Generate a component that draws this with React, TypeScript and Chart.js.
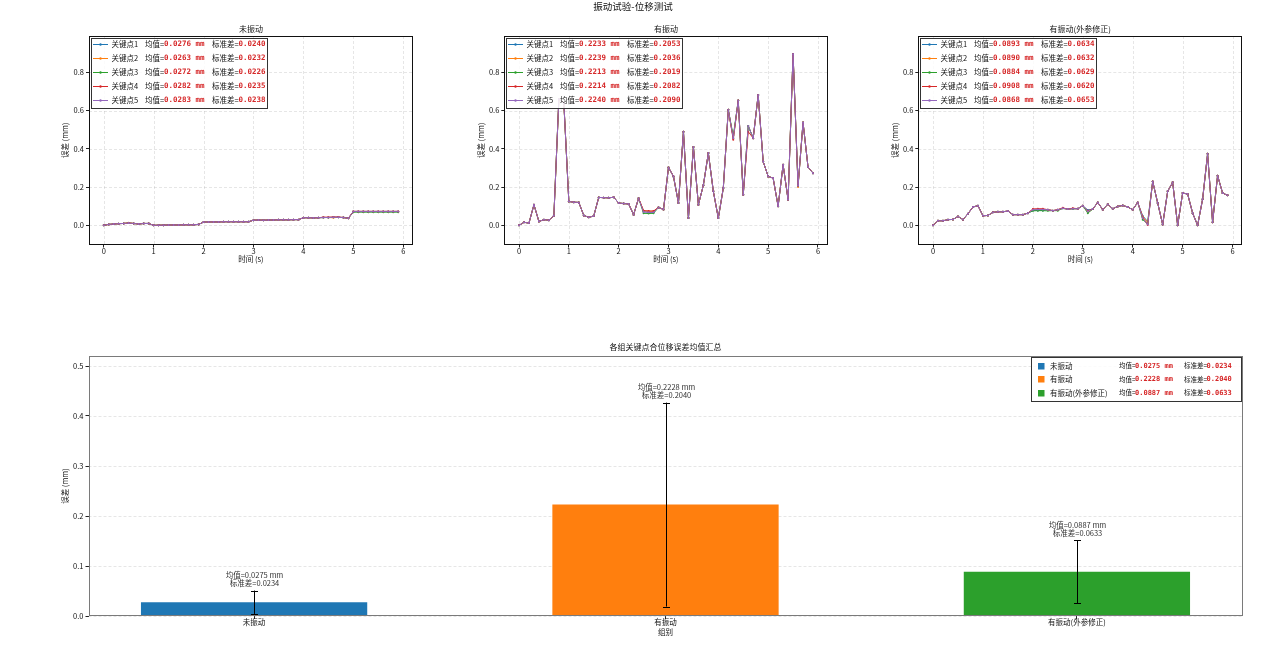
import { useEffect, useRef } from 'react';
import { Chart, registerables } from 'chart.js';

Chart.register(...registerables);

const FONT = '"Noto Sans CJK SC", "DejaVu Sans", sans-serif';
const MONO = '"DejaVu Sans Mono", monospace';
const VALUE_RED = '#d62728';

// Sampling instants (s)
const TIMES = [
  0.0, 0.1, 0.2, 0.3, 0.4, 0.5, 0.6, 0.7, 0.8, 0.9,
  1.0, 1.1, 1.2, 1.3, 1.4, 1.5, 1.6, 1.7, 1.8, 1.9,
  2.0, 2.1, 2.2, 2.3, 2.4, 2.5, 2.6, 2.7, 2.8, 2.9,
  3.0, 3.1, 3.2, 3.3, 3.4, 3.5, 3.6, 3.7, 3.8, 3.9,
  4.0, 4.1, 4.2, 4.3, 4.4, 4.5, 4.6, 4.7, 4.8, 4.9,
  5.0, 5.1, 5.2, 5.3, 5.4, 5.5, 5.6, 5.7, 5.8, 5.9,
];
const TIME_TICKS = [0, 1, 2, 3, 4, 5, 6];
const ERR_TICKS = [0, 0.2, 0.4, 0.6, 0.8];

const KEY_POINTS = ['关键点1', '关键点2', '关键点3', '关键点4', '关键点5'];
const KEY_COLORS = ['#1f77b4', '#ff7f0e', '#2ca02c', '#d62728', '#9467bd'];

// 未振动: common trace plus per-point deviations (index -> value)
const STATIC_TRACE = [
  0.000, 0.005, 0.007, 0.009, 0.010, 0.012, 0.010, 0.007, 0.010, 0.010,
  0.000, 0.001, 0.001, 0.002, 0.002, 0.002, 0.003, 0.003, 0.003, 0.005,
  0.017, 0.018, 0.018, 0.018, 0.019, 0.019, 0.019, 0.019, 0.019, 0.019,
  0.027, 0.028, 0.027, 0.028, 0.028, 0.029, 0.029, 0.029, 0.030, 0.030,
  0.040, 0.040, 0.039, 0.040, 0.041, 0.041, 0.042, 0.042, 0.041, 0.037,
  0.073, 0.073, 0.073, 0.073, 0.073, 0.073, 0.073, 0.073, 0.073, 0.073,
];
const STATIC_DEVIATIONS: Record<number, number>[] = [
  {},
  { 5: 0.014, 46: 0.040 },
  { 50: 0.069, 51: 0.069, 52: 0.069, 53: 0.069, 54: 0.069, 55: 0.069, 56: 0.069, 57: 0.069, 58: 0.069, 59: 0.069 },
  { 44: 0.043, 45: 0.043, 46: 0.044, 47: 0.044 },
  {},
];
const STATIC_MEANS = [0.0276, 0.0263, 0.0272, 0.0282, 0.0283];
const STATIC_STDS = [0.0240, 0.0232, 0.0226, 0.0235, 0.0238];

// 有振动
const VIB_TRACE = [
  0.000, 0.016, 0.012, 0.108, 0.020, 0.030, 0.027, 0.050, 0.660, 0.640,
  0.125, 0.121, 0.120, 0.052, 0.042, 0.049, 0.146, 0.145, 0.144, 0.147,
  0.117, 0.114, 0.112, 0.056, 0.142, 0.070, 0.068, 0.068, 0.094, 0.083,
  0.303, 0.256, 0.117, 0.490, 0.038, 0.410, 0.108, 0.210, 0.378, 0.178,
  0.038, 0.195, 0.604, 0.456, 0.653, 0.160, 0.520, 0.456, 0.682, 0.334,
  0.256, 0.247, 0.100, 0.317, 0.134, 0.896, 0.207, 0.538, 0.305, 0.273,
];
const VIB_DEVIATIONS: Record<number, number>[] = [
  { 25: 0.072, 26: 0.068 },
  { 25: 0.076, 26: 0.074, 27: 0.074, 56: 0.200 },
  { 25: 0.063, 26: 0.062, 27: 0.063, 43: 0.468 },
  { 25: 0.077, 26: 0.075, 27: 0.075, 43: 0.448, 46: 0.490 },
  {},
];
const VIB_MEANS = [0.2233, 0.2239, 0.2213, 0.2214, 0.2240];
const VIB_STDS = [0.2053, 0.2036, 0.2019, 0.2082, 0.2090];

// 有振动(外参修正)
const RECT_TRACE = [
  0.000, 0.024, 0.024, 0.030, 0.031, 0.047, 0.030, 0.061, 0.096, 0.103,
  0.050, 0.052, 0.068, 0.071, 0.071, 0.075, 0.056, 0.056, 0.056, 0.064,
  0.082, 0.083, 0.083, 0.082, 0.077, 0.082, 0.089, 0.085, 0.087, 0.087,
  0.103, 0.073, 0.085, 0.120, 0.082, 0.110, 0.087, 0.099, 0.104, 0.096,
  0.082, 0.120, 0.038, 0.004, 0.230, 0.117, 0.004, 0.178, 0.225, 0.000,
  0.169, 0.164, 0.064, 0.000, 0.137, 0.374, 0.016, 0.260, 0.169, 0.157,
];
const RECT_DEVIATIONS: Record<number, number>[] = [
  { 20: 0.078, 21: 0.078, 22: 0.078, 31: 0.080, 42: 0.050, 43: 0.020 },
  { 31: 0.068, 42: 0.045, 43: 0.015 },
  { 20: 0.076, 21: 0.077, 22: 0.077, 23: 0.076, 25: 0.077, 31: 0.064, 42: 0.030, 43: 0.008 },
  { 20: 0.086, 21: 0.087, 22: 0.087, 26: 0.092, 28: 0.090, 31: 0.077, 42: 0.042, 43: 0.002 },
  {},
];
const RECT_MEANS = [0.0893, 0.0890, 0.0884, 0.0908, 0.0868];
const RECT_STDS = [0.0634, 0.0632, 0.0629, 0.0620, 0.0653];

// Summary bars
const GROUPS = ['未振动', '有振动', '有振动(外参修正)'];
const GROUP_MEANS = [0.0275, 0.2228, 0.0887];
const GROUP_STDS = [0.0234, 0.2040, 0.0633];
const GROUP_COLORS = ['#1f77b4', '#ff7f0e', '#2ca02c'];
const SUMMARY_TICKS = [0, 0.1, 0.2, 0.3, 0.4, 0.5];

Chart.defaults.font.family = FONT;
Chart.defaults.color = '#111';

function hline(ctx: CanvasRenderingContext2D, x1: number, x2: number, y: number) {
  ctx.beginPath();
  ctx.moveTo(x1, y);
  ctx.lineTo(x2, y);
  ctx.stroke();
}
function vline(ctx: CanvasRenderingContext2D, x: number, y1: number, y2: number) {
  ctx.beginPath();
  ctx.moveTo(x, y1);
  ctx.lineTo(x, y2);
  ctx.stroke();
}

function gridFramePlugin(gridX: boolean, frameColor: string) {
  return {
    id: 'gridFrame',
    beforeDatasetsDraw(chart: any) {
      const { ctx, chartArea: a, scales } = chart;
      ctx.save();
      ctx.strokeStyle = 'rgba(150,150,150,0.3)';
      ctx.lineWidth = 0.8;
      ctx.setLineDash([3, 2]);
      if (gridX) {
        for (const t of scales.x.ticks) {
          const px = Math.round(scales.x.getPixelForValue(t.value)) + 0.5;
          vline(ctx, px, a.top, a.bottom);
        }
      }
      for (const t of scales.y.ticks) {
        const py = Math.round(scales.y.getPixelForValue(t.value)) + 0.5;
        hline(ctx, a.left, a.right, py);
      }
      ctx.restore();
    },
    afterDatasetsDraw(chart: any) {
      const { ctx, chartArea: a } = chart;
      ctx.save();
      ctx.strokeStyle = frameColor;
      ctx.lineWidth = 1;
      const l = Math.round(a.left) + 0.5;
      const r = Math.round(a.right) - 0.5;
      const t = Math.round(a.top) + 0.5;
      const b = Math.round(a.bottom) - 0.5;
      ctx.strokeRect(l, t, r - l, b - t);
      ctx.restore();
    },
  };
}

function titlePlugin(title: string, suptitle?: { text: string; x: number }) {
  return {
    id: 'panelTitle',
    afterDraw(chart: any) {
      const { ctx, chartArea: a } = chart;
      ctx.save();
      ctx.fillStyle = '#111';
      ctx.textAlign = 'center';
      ctx.textBaseline = 'middle';
      ctx.font = `8px ${FONT}`;
      ctx.fillText(title, (a.left + a.right) / 2, a.top - 7);
      if (suptitle) {
        ctx.font = `9.5px ${FONT}`;
        ctx.fillText(suptitle.text, suptitle.x, 6);
      }
      ctx.restore();
    },
  };
}

type StatLayout = { offsets: number[]; cjkSize: number; monoSize: number };

// Legend row statistics: mean and std, with the figures in red monospace
function drawStatText(
  ctx: CanvasRenderingContext2D, x0: number, y: number,
  lay: StatLayout, mean: number, std: number,
) {
  const o = lay.offsets;
  ctx.textAlign = 'left';
  ctx.textBaseline = 'middle';
  ctx.font = `${lay.cjkSize}px ${FONT}`;
  ctx.fillStyle = '#111';
  ctx.fillText('均值=', x0 + o[0], y);
  ctx.fillText('标准差=', x0 + o[2], y);
  ctx.font = `bold ${lay.monoSize}px ${MONO}`;
  ctx.fillStyle = VALUE_RED;
  ctx.fillText(`${mean.toFixed(4)} mm`, x0 + o[1], y);
  ctx.fillText(std.toFixed(4), x0 + o[3], y);
}

const KEY_STAT_LAYOUT: StatLayout = { offsets: [54, 73, 121, 147.5], cjkSize: 7.5, monoSize: 7.5 };
const GROUP_STAT_LAYOUT: StatLayout = { offsets: [88, 104, 153, 175.5], cjkSize: 6.5, monoSize: 7 };

function keyLegendPlugin(means: number[], stds: number[]) {
  return {
    id: 'keyLegend',
    afterDraw(chart: any) {
      const { ctx, chartArea: a } = chart;
      const x0 = Math.round(a.left) + 2;
      const y0 = Math.round(a.top) + 2;
      const w = 176;
      const h = 70;
      ctx.save();
      ctx.fillStyle = 'rgba(255,255,255,0.85)';
      ctx.fillRect(x0, y0, w, h);
      ctx.strokeStyle = '#333';
      ctx.lineWidth = 1;
      ctx.strokeRect(x0 + 0.5, y0 + 0.5, w, h);
      KEY_POINTS.forEach((name, k) => {
        const y = y0 + 6.3 + k * 13.9;
        ctx.strokeStyle = KEY_COLORS[k];
        ctx.lineWidth = 1;
        hline(ctx, x0 + 2, x0 + 17, Math.round(y) + 0.5);
        ctx.fillStyle = KEY_COLORS[k];
        ctx.beginPath();
        ctx.arc(x0 + 9.5, Math.round(y) + 0.5, 1.2, 0, Math.PI * 2);
        ctx.fill();
        ctx.textAlign = 'left';
        ctx.textBaseline = 'middle';
        ctx.font = `7.5px ${FONT}`;
        ctx.fillStyle = '#111';
        ctx.fillText(name, x0 + 20.5, y);
        drawStatText(ctx, x0, y, KEY_STAT_LAYOUT, means[k], stds[k]);
      });
      ctx.restore();
    },
  };
}

type PanelSpec = {
  title: string;
  trace: number[];
  deviations: Record<number, number>[];
  means: number[];
  stds: number[];
  left: number;
  width: number;
  padLeft: number;
  padRight: number;
  suptitle?: { text: string; x: number };
};

const PANELS: PanelSpec[] = [
  {
    title: '未振动', trace: STATIC_TRACE, deviations: STATIC_DEVIATIONS,
    means: STATIC_MEANS, stds: STATIC_STDS, left: 0, width: 423, padLeft: 61, padRight: 10,
  },
  {
    title: '有振动', trace: VIB_TRACE, deviations: VIB_DEVIATIONS,
    means: VIB_MEANS, stds: VIB_STDS, left: 423, width: 420, padLeft: 53.3, padRight: 15.3,
    suptitle: { text: '振动试验-位移测试', x: 210 },
  },
  {
    title: '有振动(外参修正)', trace: RECT_TRACE, deviations: RECT_DEVIATIONS,
    means: RECT_MEANS, stds: RECT_STDS, left: 843, width: 425, padLeft: 47.3, padRight: 25.7,
  },
];

const tickFont = { size: 7.5, family: FONT };

function LinePanel({ spec }: { spec: PanelSpec }) {
  const ref = useRef<HTMLCanvasElement>(null);
  useEffect(() => {
    const canvas = ref.current;
    if (!canvas) return;
    const datasets = KEY_POINTS.map((name, k) => ({
      label: name,
      data: TIMES.map((t, i) => ({
        x: t,
        y: spec.deviations[k][i] !== undefined ? spec.deviations[k][i] : spec.trace[i],
      })),
      borderColor: KEY_COLORS[k],
      backgroundColor: KEY_COLORS[k],
      borderWidth: 1,
      pointRadius: 1,
      pointBorderWidth: 0,
      pointHoverRadius: 0,
      tension: 0,
      // later key points are painted over earlier ones
      order: KEY_POINTS.length - 1 - k,
    }));
    const chart = new Chart(canvas, {
      type: 'line',
      data: { datasets },
      options: {
        animation: false,
        responsive: false,
        devicePixelRatio: 1,
        events: [],
        layout: { padding: { left: spec.padLeft, right: spec.padRight, top: 36, bottom: 16.5 } },
        plugins: { legend: { display: false }, tooltip: { enabled: false }, title: { display: false } },
        scales: {
          x: {
            type: 'linear',
            min: -0.295,
            max: 6.195,
            bounds: 'data',
            afterBuildTicks: (s: any) => { s.ticks = TIME_TICKS.map((v) => ({ value: v })); },
            afterFit: (s: any) => { s.height = 19; },
            grid: { display: true, drawOnChartArea: false, drawTicks: true, tickLength: 3, tickColor: '#222', tickWidth: 1 },
            border: { display: false },
            ticks: { font: tickFont, color: '#111', padding: -1, maxRotation: 0, callback: (v: any) => String(v) },
            title: { display: true, text: '时间 (s)', font: tickFont, color: '#111', padding: 0 },
          },
          y: {
            type: 'linear',
            min: -0.1,
            max: 0.99,
            bounds: 'data',
            afterBuildTicks: (s: any) => { s.ticks = ERR_TICKS.map((v) => ({ value: v })); },
            afterFit: (s: any) => { s.width = 28; },
            grid: { display: true, drawOnChartArea: false, drawTicks: true, tickLength: 3, tickColor: '#222', tickWidth: 1 },
            border: { display: false },
            ticks: { font: tickFont, color: '#111', padding: 2, callback: (v: any) => Number(v).toFixed(1) },
            title: { display: true, text: '误差 (mm)', font: tickFont, color: '#111', padding: 0 },
          },
        },
      } as any,
      plugins: [
        gridFramePlugin(true, '#111'),
        titlePlugin(spec.title, spec.suptitle),
        keyLegendPlugin(spec.means, spec.stds),
      ],
    });
    return () => chart.destroy();
  }, [spec]);
  return (
    <canvas
      ref={ref}
      width={spec.width}
      height={280}
      style={{ position: 'absolute', left: spec.left, top: 0, width: spec.width, height: 280 }}
    />
  );
}

const summaryPlugin = {
  id: 'summary',
  afterDatasetsDraw(chart: any) {
    const { ctx, scales } = chart;
    const { x, y } = scales;
    ctx.save();
    GROUP_MEANS.forEach((m, i) => {
      const s = GROUP_STDS[i];
      const px = Math.round(x.getPixelForValue(i)) + 0.5;
      const top = y.getPixelForValue(m + s);
      const bot = y.getPixelForValue(m - s);
      ctx.strokeStyle = '#000';
      ctx.lineWidth = 1;
      vline(ctx, px, top, bot);
      hline(ctx, px - 3.5, px + 3.5, Math.round(top) + 0.5);
      hline(ctx, px - 3.5, px + 3.5, Math.round(bot) + 0.5);
      ctx.fillStyle = '#333';
      ctx.font = `7.5px ${FONT}`;
      ctx.textAlign = 'center';
      ctx.textBaseline = 'middle';
      ctx.fillText(`均值=${m.toFixed(4)} mm`, px, top - 15);
      ctx.fillText(`标准差=${s.toFixed(4)}`, px, top - 7);
    });
    ctx.restore();
  },
  afterDraw(chart: any) {
    const { ctx, chartArea: a } = chart;
    ctx.save();
    ctx.fillStyle = '#111';
    ctx.font = `8px ${FONT}`;
    ctx.textAlign = 'center';
    ctx.textBaseline = 'middle';
    ctx.fillText('各组关键点合位移误差均值汇总', (a.left + a.right) / 2, a.top - 9);
    // legend box in the upper right corner
    const w = 210;
    const h = 44;
    const x0 = Math.round(a.right) - 2 - w;
    const y0 = Math.round(a.top) + 1;
    ctx.fillStyle = 'rgba(255,255,255,0.85)';
    ctx.fillRect(x0, y0, w, h);
    ctx.strokeStyle = '#333';
    ctx.lineWidth = 1;
    ctx.strokeRect(x0 + 0.5, y0 + 0.5, w, h);
    GROUPS.forEach((g, i) => {
      const yy = y0 + 8.7 + i * 13.5;
      ctx.fillStyle = GROUP_COLORS[i];
      ctx.fillRect(x0 + 7, Math.round(yy) - 3, 6.5, 6.5);
      ctx.textAlign = 'left';
      ctx.textBaseline = 'middle';
      ctx.font = `7.5px ${FONT}`;
      ctx.fillStyle = '#111';
      ctx.fillText(g, x0 + 19, yy);
      drawStatText(ctx, x0, yy, GROUP_STAT_LAYOUT, GROUP_MEANS[i], GROUP_STDS[i]);
    });
    ctx.restore();
  },
};

function SummaryPanel() {
  const ref = useRef<HTMLCanvasElement>(null);
  useEffect(() => {
    const canvas = ref.current;
    if (!canvas) return;
    const chart = new Chart(canvas, {
      type: 'bar',
      data: {
        datasets: [{
          label: '均值',
          data: GROUP_MEANS.map((m, i) => ({ x: i, y: m })),
          backgroundColor: GROUP_COLORS,
          borderWidth: 0,
          barPercentage: 1,
          categoryPercentage: 0.55,
        }],
      },
      options: {
        animation: false,
        responsive: false,
        devicePixelRatio: 1,
        events: [],
        layout: { padding: { left: 60.5, right: 25.5, top: 26, bottom: 18.5 } },
        plugins: { legend: { display: false }, tooltip: { enabled: false }, title: { display: false } },
        scales: {
          x: {
            type: 'linear',
            min: -0.4025,
            max: 2.4025,
            bounds: 'data',
            offset: false,
            afterBuildTicks: (s: any) => { s.ticks = GROUPS.map((_, i) => ({ value: i })); },
            afterFit: (s: any) => { s.height = 20.5; },
            grid: { display: true, offset: false, drawOnChartArea: false, drawTicks: true, tickLength: 3, tickColor: '#222', tickWidth: 1 },
            border: { display: false },
            ticks: { font: tickFont, color: '#111', padding: -1, maxRotation: 0, autoSkip: false, callback: (v: any) => GROUPS[Math.round(Number(v))] ?? '' },
            title: { display: true, text: '组别', font: tickFont, color: '#111', padding: 0 },
          },
          y: {
            type: 'linear',
            min: 0,
            max: 0.52,
            bounds: 'data',
            afterBuildTicks: (s: any) => { s.ticks = SUMMARY_TICKS.map((v) => ({ value: v })); },
            afterFit: (s: any) => { s.width = 28; },
            grid: { display: true, drawOnChartArea: false, drawTicks: true, tickLength: 3, tickColor: '#222', tickWidth: 1 },
            border: { display: false },
            ticks: { font: tickFont, color: '#111', padding: 2, callback: (v: any) => Number(v).toFixed(1) },
            title: { display: true, text: '误差 (mm)', font: tickFont, color: '#111', padding: 0 },
          },
        },
      } as any,
      plugins: [gridFramePlugin(false, '#7a7a7a'), summaryPlugin],
    });
    return () => chart.destroy();
  }, []);
  return (
    <canvas
      ref={ref}
      width={1268}
      height={325}
      style={{ position: 'absolute', left: 0, top: 330, width: 1268, height: 325 }}
    />
  );
}

export default function App() {
  return (
    <div style={{ position: 'fixed', left: 0, top: 0, width: 1268, height: 655, background: '#fff' }}>
      {PANELS.map((p) => (
        <LinePanel key={p.title} spec={p} />
      ))}
      <SummaryPanel />
    </div>
  );
}
